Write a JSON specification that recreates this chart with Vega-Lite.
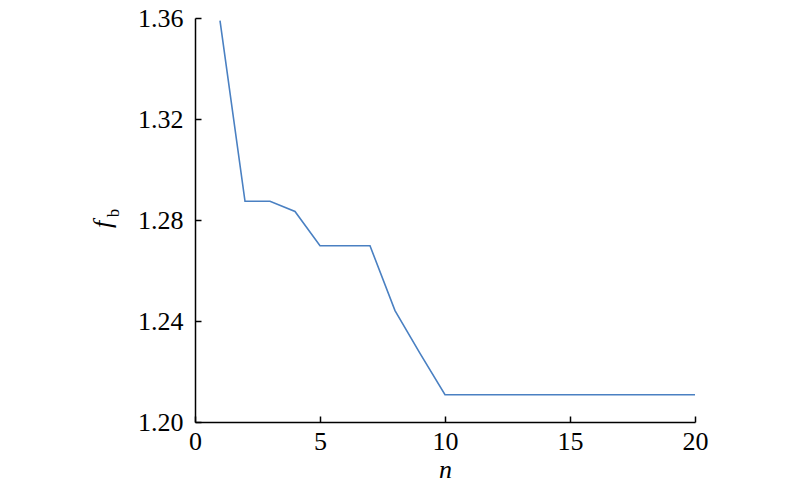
{
  "$schema": "https://vega.github.io/schema/vega-lite/v6.json",
  "autosize": "none",
  "width": 500,
  "height": 404,
  "padding": {"left": 195, "top": 18, "right": 105, "bottom": 74},
  "background": "white",
  "config": {
    "view": {"stroke": null},
    "font": "Liberation Serif"
  },
  "layer": [
    {
      "data": {"values": [
        {"n": 1, "f": 1.359},
        {"n": 2, "f": 1.2874},
        {"n": 3, "f": 1.2874},
        {"n": 4, "f": 1.2834},
        {"n": 5, "f": 1.2698},
        {"n": 6, "f": 1.2698},
        {"n": 7, "f": 1.2698},
        {"n": 8, "f": 1.2441},
        {"n": 9, "f": 1.2272},
        {"n": 10, "f": 1.2108},
        {"n": 11, "f": 1.2108},
        {"n": 12, "f": 1.2108},
        {"n": 13, "f": 1.2108},
        {"n": 14, "f": 1.2108},
        {"n": 15, "f": 1.2108},
        {"n": 16, "f": 1.2108},
        {"n": 17, "f": 1.2108},
        {"n": 18, "f": 1.2108},
        {"n": 19, "f": 1.2108},
        {"n": 20, "f": 1.2108}
      ]},
      "mark": {"type": "line", "color": "#4a80c2", "strokeWidth": 1.6},
      "encoding": {
        "x": {
          "field": "n", "type": "quantitative",
          "scale": {"domain": [0, 20], "nice": false, "zero": false},
          "axis": {"values": [0, 5, 10, 15, 20], "zindex": 2, "domain": true, "domainColor": "#000000", "domainWidth": 1.5, "ticks": true, "tickColor": "#000000", "tickWidth": 1.5, "tickSize": -6, "grid": false,
                   "labelFlush": false, "labelFont": "Liberation Serif", "labelFontSize": 26, "labelColor": "black", "labelPadding": 12,
                   "title": "n", "titleFont": "Liberation Serif", "titleFontSize": 26, "titleFontStyle": "italic", "titleFontWeight": "normal", "titleColor": "black", "titlePadding": 2}
        },
        "y": {
          "field": "f", "type": "quantitative",
          "scale": {"domain": [1.2, 1.36], "nice": false, "zero": false},
          "axis": {"values": [1.2, 1.24, 1.28, 1.32, 1.36], "format": ".2f", "zindex": 2, "domain": true, "domainColor": "#000000", "domainWidth": 1.5, "ticks": true, "tickColor": "#000000", "tickWidth": 1.5, "tickSize": -6, "grid": false,
                   "labelFlush": false, "labelFont": "Liberation Serif", "labelFontSize": 26, "labelColor": "black", "labelPadding": 18,
                   "title": "f", "titleFont": "Liberation Serif", "titleFontSize": 26, "titleFontStyle": "italic", "titleFontWeight": "normal", "titleColor": "black", "titlePadding": 22, "titleY": 206}
        }
      }
    },
    {
      "data": {"values": [{"n": -3.24, "f": 1.2828, "t": "b"}]},
      "mark": {"type": "text", "font": "Liberation Serif", "fontSize": 17, "angle": 270, "color": "black", "align": "center", "baseline": "middle"},
      "encoding": {
        "x": {"field": "n", "type": "quantitative"},
        "y": {"field": "f", "type": "quantitative"},
        "text": {"field": "t"}
      }
    }
  ]
}
